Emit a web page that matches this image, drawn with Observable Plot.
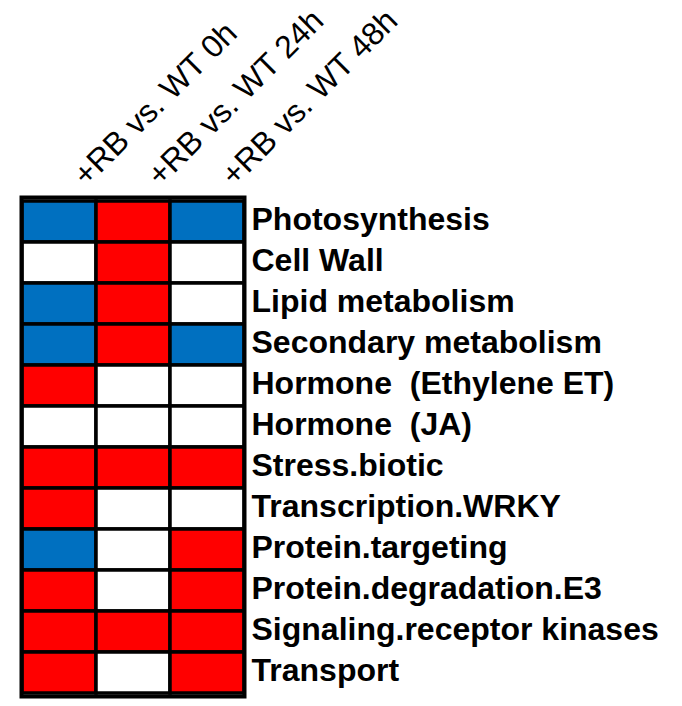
<!DOCTYPE html>
<html>
<head>
<meta charset="utf-8">
<script src="https://cdn.jsdelivr.net/npm/d3@7"></script>
<script src="https://cdn.jsdelivr.net/npm/@observablehq/plot@0.6"></script>
<style>
  html, body { margin: 0; padding: 0; background: #fff; }
  svg text { white-space: pre; }
</style>
</head>
<body>
<div id="chart"></div>
<script>
const categories = [
  "Photosynthesis",
  "Cell Wall",
  "Lipid metabolism",
  "Secondary metabolism",
  "Hormone  (Ethylene ET)",
  "Hormone  (JA)",
  "Stress.biotic",
  "Transcription.WRKY",
  "Protein.targeting",
  "Protein.degradation.E3",
  "Signaling.receptor kinases",
  "Transport"
];
const comparisons = ["+RB vs. WT 0h", "+RB vs. WT 24h", "+RB vs. WT 48h"];
// 1 = up (red), -1 = down (blue), 0 = no change (white)
const values0h  = [-1, 0, -1, -1, 1, 0, 1, 1, -1, 1, 1, 1];
const values24h = [ 1, 1,  1,  1, 0, 0, 1, 0,  0, 0, 1, 0];
const values48h = [-1, 0,  0, -1, 0, 0, 1, 0,  1, 1, 1, 1];

const series = [values0h, values24h, values48h];
const cells = [];
comparisons.forEach((c, j) => {
  categories.forEach((cat, i) => {
    cells.push({comparison: c, category: cat, value: series[j][i]});
  });
});

const chart = Plot.plot({
  width: 682,
  height: 706,
  marginLeft: 21,
  marginRight: 438,
  marginTop: 197,
  marginBottom: 10,
  style: {fontFamily: "'Liberation Sans', Arial, sans-serif", background: "#fff"},
  x: {domain: comparisons, padding: 0, axis: null},
  y: {domain: categories, padding: 0, axis: null},
  color: {domain: [-1, 0, 1], range: ["#0070C0", "#FFFFFF", "#FF0000"]},
  marks: [
    Plot.cell(cells, {x: "comparison", y: "category", fill: d => d.value, stroke: "#000", strokeWidth: 3.5}),
    Plot.frame({stroke: "#000", strokeWidth: 4}),
    Plot.text(categories, {
      y: d => d, frameAnchor: "right", textAnchor: "start", dx: 7, dy: -2,
      fontSize: 32, fontWeight: "bold", fill: "#000"
    }),
    Plot.text(comparisons, {
      x: d => d, frameAnchor: "top", textAnchor: "start", lineAnchor: "bottom",
      rotate: -45, dx: 27, dy: -10, fontSize: 32, fill: "#000"
    })
  ]
});
document.getElementById("chart").appendChild(chart);
</script>
</body>
</html>
